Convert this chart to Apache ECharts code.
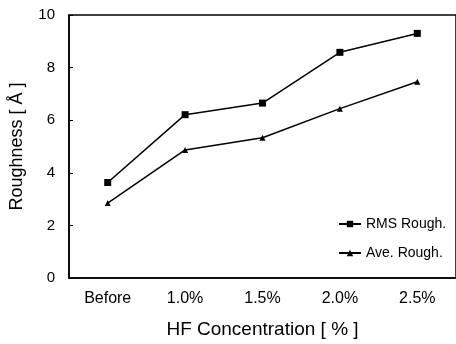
<!DOCTYPE html>
<html>
<head>
<meta charset="utf-8">
<script src="https://cdn.jsdelivr.net/npm/echarts@6/dist/echarts.min.js"></script>
<style>html,body{margin:0;padding:0;background:#fff}#c{width:456px;height:344px}</style>
</head>
<body>
<div id="c"></div>
<script>
const categories = ['Before', '1.0%', '1.5%', '2.0%', '2.5%'];
const rmsRough = [3.63, 6.21, 6.65, 8.58, 9.30];
const aveRough = [2.85, 4.87, 5.33, 6.44, 7.46];
const seriesNames = ['RMS Rough.', 'Ave. Rough.'];

const chart = echarts.init(document.getElementById('c'));
const font = 'Liberation Sans, Arial, sans-serif';
chart.setOption({
  animation: false,
  backgroundColor: '#fff',
  grid: { left: 69, right: -2, top: 15, bottom: 66, show: true, borderColor: '#000', borderWidth: 1.5 },
  legend: {
    orient: 'vertical', left: 333, top: 212, itemGap: 15, itemWidth: 22, itemHeight: 8,
    textStyle: { fontFamily: font, fontSize: 14, color: '#000' },
    data: seriesNames
  },
  xAxis: {
    type: 'category', data: categories, boundaryGap: true,
    name: 'HF Concentration [ % ]', nameLocation: 'middle', nameGap: 42,
    nameTextStyle: { fontFamily: font, fontSize: 19, color: '#000' },
    axisLine: { lineStyle: { color: '#000', width: 1.5 } },
    axisTick: { inside: true, length: 4, lineStyle: { color: '#000' } },
    axisLabel: { fontFamily: font, fontSize: 16, color: '#000', margin: 13 }
  },
  yAxis: {
    type: 'value', min: 0, max: 10, interval: 2,
    name: 'Roughness [ Å ]', nameLocation: 'middle', nameGap: 43,
    nameTextStyle: { fontFamily: font, fontSize: 18, color: '#000' },
    axisLine: { show: true, lineStyle: { color: '#000', width: 1.5 } },
    axisTick: { show: true, inside: true, length: 4, lineStyle: { color: '#000' } },
    axisLabel: { fontFamily: font, fontSize: 15, color: '#000', margin: 14 },
    splitLine: { show: false }
  },
  series: [
    { name: seriesNames[0], type: 'line', data: rmsRough, symbol: 'rect', symbolSize: 7,
      itemStyle: { color: '#000' }, lineStyle: { color: '#000', width: 1.5 } },
    { name: seriesNames[1], type: 'line', data: aveRough, symbol: 'triangle', symbolSize: 6,
      itemStyle: { color: '#000' }, lineStyle: { color: '#000', width: 1.5 } }
  ]
});
</script>
</body>
</html>
